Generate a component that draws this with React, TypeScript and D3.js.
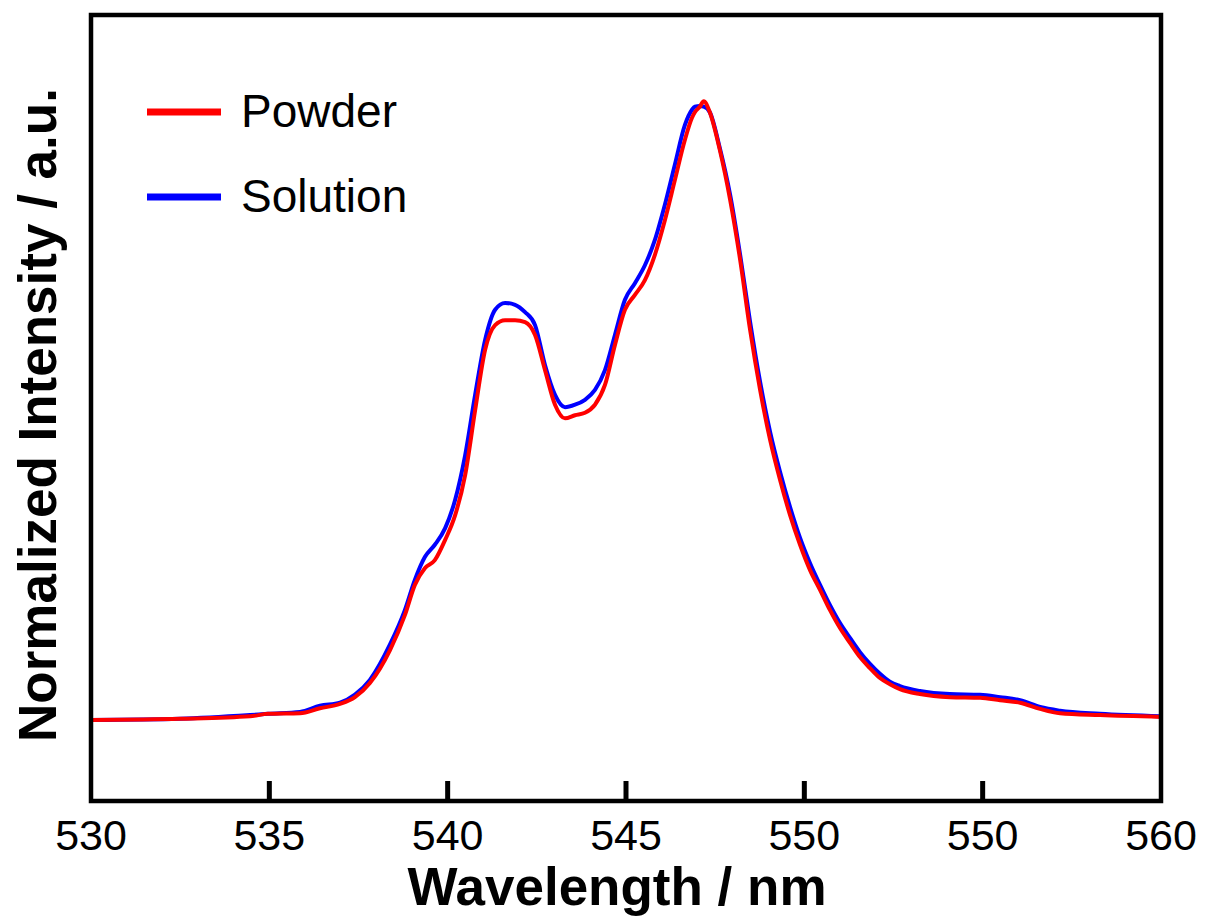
import React from "react";
import * as d3 from "d3";

const wavelengths = [530.0, 532.5, 534.46, 534.96, 535.86, 536.42, 536.98, 537.4, 537.82, 538.38, 538.8, 539.08, 539.36, 539.64, 539.93, 540.21, 540.49, 540.77, 541.05, 541.33, 541.61, 541.89, 542.17, 542.45, 542.73, 543.01, 543.29, 543.57, 543.85, 544.13, 544.41, 544.69, 544.97, 545.25, 545.53, 545.81, 546.09, 546.37, 546.65, 546.85, 546.93, 547.07, 547.18, 547.35, 547.63, 547.92, 548.2, 548.48, 548.76, 549.04, 549.32, 549.6, 549.88, 550.16, 550.44, 550.72, 551.0, 551.28, 551.56, 551.84, 552.12, 552.4, 552.68, 553.24, 554.08, 554.93, 555.49, 556.05, 556.61, 557.17, 558.29, 560.0];

const powder = [0.0, 0.002, 0.006, 0.01, 0.011, 0.019, 0.026, 0.037, 0.06, 0.113, 0.17, 0.219, 0.246, 0.259, 0.292, 0.332, 0.397, 0.502, 0.6, 0.64, 0.648, 0.648, 0.645, 0.624, 0.567, 0.511, 0.489, 0.494, 0.498, 0.511, 0.543, 0.608, 0.665, 0.689, 0.713, 0.754, 0.81, 0.875, 0.94, 0.976, 0.985, 0.994, 1.003, 0.985, 0.924, 0.843, 0.746, 0.632, 0.535, 0.454, 0.389, 0.332, 0.284, 0.243, 0.211, 0.178, 0.149, 0.125, 0.102, 0.084, 0.068, 0.058, 0.05, 0.042, 0.037, 0.036, 0.032, 0.028, 0.018, 0.011, 0.008, 0.005];

const solution = [0.0, 0.002, 0.008, 0.01, 0.013, 0.023, 0.028, 0.041, 0.065, 0.122, 0.178, 0.227, 0.264, 0.284, 0.311, 0.357, 0.429, 0.527, 0.616, 0.665, 0.676, 0.673, 0.661, 0.64, 0.575, 0.527, 0.507, 0.511, 0.519, 0.535, 0.567, 0.624, 0.681, 0.708, 0.737, 0.778, 0.835, 0.9, 0.964, 0.989, 0.994, 0.995, 0.994, 0.985, 0.927, 0.851, 0.754, 0.645, 0.548, 0.467, 0.402, 0.345, 0.295, 0.254, 0.219, 0.186, 0.157, 0.133, 0.11, 0.091, 0.075, 0.062, 0.055, 0.047, 0.042, 0.041, 0.037, 0.032, 0.021, 0.015, 0.01, 0.006];

const tickValues = [530, 535, 540, 545, 550, 555, 560];
const tickLabels = ["530", "535", "540", "545", "550", "550", "560"];

const seriesNames = ["Powder", "Solution"];
const seriesColors = ["#ff0000", "#0000ff"];

export default function App() {
  const W = 1207;
  const H = 917;
  const left = 91, right = 1161, top = 15, bottom = 801;
  const x = d3.scaleLinear().domain([530, 560]).range([left, right]);
  const y = d3.scaleLinear().domain([0, 1]).range([720, 103]);

  const line = d3
    .line<number>()
    .x((_, i) => x(wavelengths[i]))
    .y((d) => y(d))
    .curve(d3.curveMonotoneX);

  const font = "Arial, 'Liberation Sans', sans-serif";
  const draw = [solution, powder];
  const drawColors = [seriesColors[1], seriesColors[0]];

  const tickPath = tickValues
    .slice(1, -1)
    .map((t) => `M${x(t)},${bottom} V${bottom - 20}`)
    .join(" ");

  return (
    <svg width={W} height={H} style={{ position: "absolute", left: 0, top: 0, background: "#fff" }}>
      <rect x={0} y={0} width={W} height={H} fill="#fff" />
      {draw.map((s, k) => (
        <path key={k} d={line(s) || ""} fill="none" stroke={drawColors[k]} strokeWidth={4} strokeLinejoin="round" />
      ))}
      <path d={tickPath} stroke="#000000" strokeWidth={5} fill="none" />
      <rect x={left} y={top} width={right - left} height={bottom - top} fill="none" stroke="#000" strokeWidth={4.5} />
      {tickValues.map((t, i) => (
        <text key={i} x={x(t)} y={850} textAnchor="middle" fontFamily={font} fontSize={43} fill="#000">
          {tickLabels[i]}
        </text>
      ))}
      <text x={617} y={905} textAnchor="middle" fontFamily={font} fontSize={53} fontWeight="bold" fill="#000">
        Wavelength / nm
      </text>
      <text
        transform={`translate(56, 415) rotate(-90)`}
        textAnchor="middle"
        fontFamily={font}
        fontSize={53}
        fontWeight="bold"
        fill="#000"
      >
        Normalized Intensity / a.u.
      </text>
      {seriesNames.map((n, i) => (
        <g key={n}>
          <line x1={147} x2={221} y1={112 + i * 85} y2={112 + i * 85} stroke={seriesColors[i]} strokeWidth={7} />
          <text x={241} y={127 + i * 85} fontFamily={font} fontSize={46} fill="#000">
            {n}
          </text>
        </g>
      ))}
    </svg>
  );
}
